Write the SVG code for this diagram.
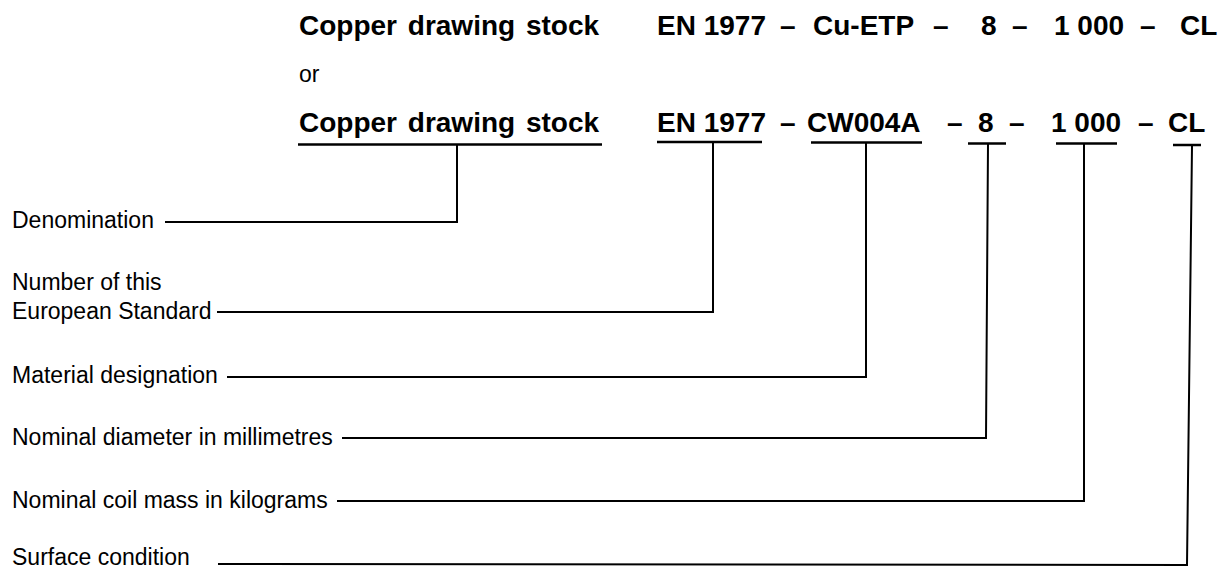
<svg xmlns="http://www.w3.org/2000/svg" width="1219" height="571" viewBox="0 0 1219 571">
<style>
.b{font-family:"Liberation Sans",Arial,sans-serif;font-weight:bold;font-size:28px;fill:#000}
.r{font-family:"Liberation Sans",Arial,sans-serif;font-size:23px;fill:#000}
.u{stroke:#000;stroke-width:2.5;fill:none}
.c{stroke:#000;stroke-width:2;fill:none}
</style>
<rect width="1219" height="571" fill="#fff"/>
<g id="designation-1">
<text class="b" x="299" y="35" word-spacing="3">Copper drawing stock</text>
<text class="b" x="657" y="35">EN 1977</text>
<text class="b" x="780" y="35">–</text>
<text class="b" x="813" y="35">Cu-ETP</text>
<text class="b" x="933" y="35">–</text>
<text class="b" x="981" y="35">8</text>
<text class="b" x="1012" y="35">–</text>
<text class="b" x="1054" y="35">1 000</text>
<text class="b" x="1140" y="35">–</text>
<text class="b" x="1180" y="35">CL</text>
</g>
<g id="or"><text class="r" x="299" y="82">or</text></g>
<g id="designation-2">
<text class="b" x="299" y="132" word-spacing="3">Copper drawing stock</text>
<text class="b" x="657" y="132">EN 1977</text>
<text class="b" x="780" y="132">–</text>
<text class="b" x="807" y="132">CW004A</text>
<text class="b" x="947" y="132">–</text>
<text class="b" x="978" y="132">8</text>
<text class="b" x="1009" y="132">–</text>
<text class="b" x="1051" y="132">1 000</text>
<text class="b" x="1138" y="132">–</text>
<text class="b" x="1168" y="132">CL</text>
</g>
<g id="underlines">
<line class="u" x1="298" y1="144.5" x2="602" y2="144.5"/>
<line class="u" x1="657" y1="142" x2="762" y2="142"/>
<line class="u" x1="811" y1="142.5" x2="922" y2="142.5"/>
<line class="u" x1="968" y1="143.5" x2="1006" y2="143.5"/>
<line class="u" x1="1056" y1="143.5" x2="1117" y2="143.5"/>
<line class="u" x1="1173" y1="145" x2="1201" y2="145"/>
</g>
<g id="label-denomination"><text class="r" x="12" y="228">Denomination</text></g>
<g id="label-number"><text class="r" x="12" y="290">Number of this</text><text class="r" x="12" y="319">European Standard</text></g>
<g id="label-material"><text class="r" x="12" y="383">Material designation</text></g>
<g id="label-diameter"><text class="r" x="12" y="445">Nominal diameter in millimetres</text></g>
<g id="label-mass"><text class="r" x="12" y="508">Nominal coil mass in kilograms</text></g>
<g id="label-surface"><text class="r" x="12" y="565">Surface condition</text></g>
<g id="connectors">
<polyline class="c" points="165,222 457,222 457,145"/>
<polyline class="c" points="217,312 713,312 713,142"/>
<polyline class="c" points="227,377 866,377 866,143"/>
<polyline class="c" points="342,438 986,438 988,144"/>
<polyline class="c" points="337,501 1084,501 1084,144"/>
<polyline class="c" points="218,564 1187,565 1192,146"/>
</g>
</svg>
